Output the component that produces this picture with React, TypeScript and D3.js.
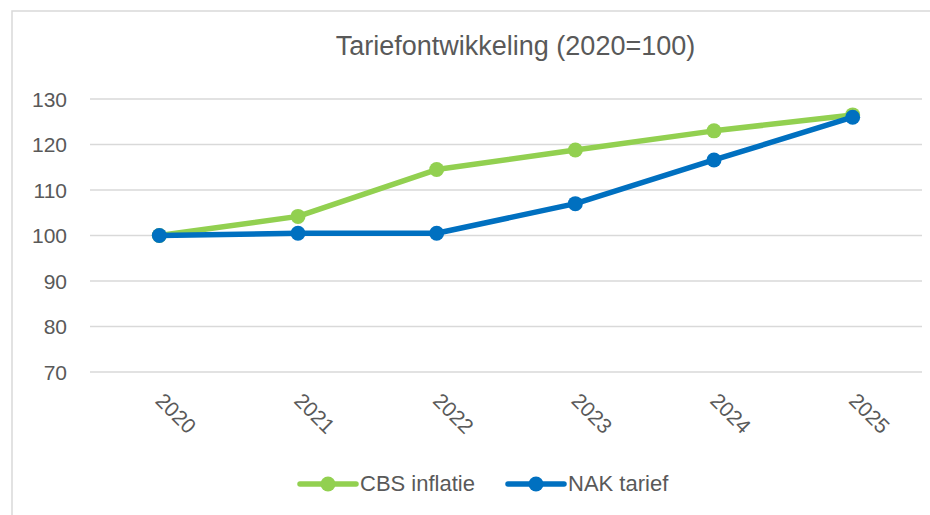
import React from "react";
import * as d3 from "d3";

const years = ["2020", "2021", "2022", "2023", "2024", "2025"];
const cbsInflatie = [100, 104.2, 114.5, 118.8, 123.0, 126.5];
const nakTarief = [100, 100.5, 100.5, 107.0, 116.6, 126.0];
const yTicks = [70, 80, 90, 100, 110, 120, 130];
const seriesNames = ["CBS inflatie", "NAK tarief"];
const seriesColors = ["#92D050", "#0070C0"];

const W = 930;
const H = 515;
const FONT = "'Liberation Sans', Arial, sans-serif";
const TEXT = "#595959";

export default function App() {
  const x = d3.scaleBand().domain(years).range([90, 922]).padding(0);
  const y = d3.scaleLinear().domain([70, 130]).range([372, 99]);
  const cx = (d: string) => (x(d) as number) + x.bandwidth() / 2;
  const line = d3
    .line<number>()
    .x((_, i) => cx(years[i]))
    .y((v) => y(v));
  const series = [cbsInflatie, nakTarief];
  const legendX = [300, 508];

  return (
    <svg
      width={W}
      height={H}
      style={{ position: "absolute", left: 0, top: 0, background: "#fff" }}
      fontFamily={FONT}
    >
      <rect x={12} y={11} width={940} height={540} fill="#fff" stroke="#D9D9D9" strokeWidth={1.5} />
      <text x={515.5} y={55} textAnchor="middle" fontSize={27} fill={TEXT}>
        Tariefontwikkeling (2020=100)
      </text>
      {yTicks.map((t) => (
        <g key={t}>
          <line x1={90} x2={922} y1={y(t)} y2={y(t)} stroke="#D9D9D9" strokeWidth={1.5} />
          <text x={67} y={y(t) + 7.5} textAnchor="end" fontSize={21} fill={TEXT}>
            {t}
          </text>
        </g>
      ))}
      {years.map((yr) => (
        <text
          key={yr}
          transform={`translate(${cx(yr) - 5},${402}) rotate(45)`}
          textAnchor="start"
          fontSize={21}
          fill={TEXT}
        >
          {yr}
        </text>
      ))}
      {series.map((s, si) => (
        <g key={si}>
          <path
            d={line(s) as string}
            fill="none"
            stroke={seriesColors[si]}
            strokeWidth={5.5}
            strokeLinejoin="round"
            strokeLinecap="round"
          />
          {s.map((v, i) => (
            <circle key={i} cx={cx(years[i])} cy={y(v)} r={7.5} fill={seriesColors[si]} />
          ))}
        </g>
      ))}
      {seriesNames.map((n, i) => (
        <g key={n}>
          <line
            x1={legendX[i]}
            x2={legendX[i] + 56}
            y1={484}
            y2={484}
            stroke={seriesColors[i]}
            strokeWidth={5.5}
            strokeLinecap="round"
          />
          <circle cx={legendX[i] + 28} cy={484} r={7.5} fill={seriesColors[i]} />
          <text x={legendX[i] + 60} y={491} fontSize={22} fill={TEXT}>
            {n}
          </text>
        </g>
      ))}
    </svg>
  );
}
